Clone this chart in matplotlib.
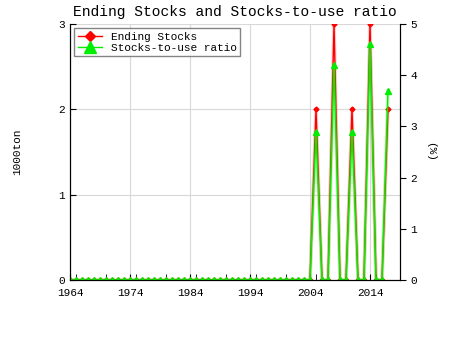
import matplotlib
matplotlib.use('Agg')
from matplotlib import pyplot as plt
from matplotlib.ticker import MultipleLocator

plt.rcParams['font.family'] = ['Liberation Mono', 'DejaVu Sans Mono']

years = list(range(1964, 2018))
# ending stocks (1000ton), zero until 2004
stocks = [0] * len(years)
ratio = [0] * len(years)
peak_years = [2005, 2008, 2011, 2014, 2017]
peak_stocks = [2, 3, 2, 3, 2]
peak_ratio = [2.9, 4.2, 2.9, 4.6, 3.7]
for y, s, r in zip(peak_years, peak_stocks, peak_ratio):
    stocks[years.index(y)] = s
    ratio[years.index(y)] = r

fig = plt.figure(figsize=(4.5, 3.5), dpi=100)
ax = fig.add_axes([70/450, 70/350, 330/450, 256/350])
ax2 = ax.twinx()

ax.plot(years, stocks, color='#ff0000', lw=2.5, alpha=0.2, zorder=2)
l1, = ax.plot(years, stocks, color='#ff0000', lw=1, marker='D', ms=2.5,
              label='Ending Stocks', zorder=3)
ax2.plot(years, ratio, color='#00ff00', lw=2.5, alpha=0.2)
l2, = ax2.plot(years, ratio, color='#00ee00', lw=1, marker='^', ms=4,
               label='Stocks-to-use ratio')

ax.set_xlim(1964, 2019)
ax.set_ylim(0, 3)
ax2.set_ylim(0, 5)
ax.set_xticks([1964, 1974, 1984, 1994, 2004, 2014])
ax.xaxis.set_minor_locator(MultipleLocator(5))
ax.set_yticks([0, 1, 2, 3])
ax2.set_yticks([0, 1, 2, 3, 4, 5])
ax.grid(True, color='#d8d8d8', lw=0.8)
ax.set_axisbelow(True)

ax.tick_params(axis='x', direction='in', length=4, labelsize=8, pad=6, which='both')
ax.tick_params(axis='y', direction='in', length=4, labelsize=8)
ax2.tick_params(axis='y', direction='out', length=4, labelsize=8)
for a in (ax, ax2):
    a.spines['top'].set_visible(False)

ax.set_ylabel('1000ton', fontsize=8, labelpad=26)
ax2.set_ylabel('(%)', fontsize=8, rotation=270, labelpad=13)
ax.set_title('Ending Stocks and Stocks-to-use ratio', fontsize=10.5, pad=6)

leg = ax.legend(handles=[l1, l2], loc='upper left', fontsize=8,
                frameon=True, fancybox=False, edgecolor='#666666',
                borderaxespad=0.4, handlelength=2.2, labelspacing=0.1,
                borderpad=0.3, markerscale=2)
leg.get_frame().set_linewidth(1)

fig.savefig('out.png')
plt.close(fig)
